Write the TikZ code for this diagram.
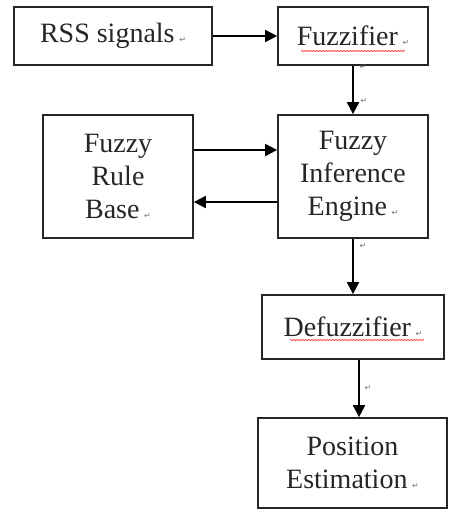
\documentclass[tikz,border=0pt]{standalone}
\usepackage{fontspec}
\setmainfont{Liberation Serif}
\newfontfamily\markfont{DejaVu Sans}
\usetikzlibrary{arrows.meta,decorations.pathmorphing}
\newcommand{\pmark}{\,{\markfont\fontsize{8}{8}\selectfont\color{black!55}\raisebox{0pt}{↵}}}
\tikzset{
  blk/.style={draw=black!85, line width=1.7pt, rectangle, inner sep=0pt,
    align=center, font=\fontsize{28}{33}\selectfont, text=black!85},
  flow/.style={draw=black, line width=1.8pt, -{Triangle[length=12pt,width=12pt]}},
  spell/.style={draw=red!70, line width=0.9pt, decorate,
    decoration={snake, amplitude=0.5pt, segment length=3pt}},
  pm/.style={inner sep=0pt, font=\markfont\fontsize{8}{8}\selectfont, text=black!55}
}
\begin{document}
\begin{tikzpicture}[x=1pt,y=-1pt]
\useasboundingbox (0,0) rectangle (449,511);
\node[blk, minimum width=198pt, minimum height=58pt] (rss) at (113,36) {RSS signals\pmark};
\node[blk, minimum width=150pt, minimum height=58pt] (fuz) at (353,36) {Fuzzifier\pmark};
\node[blk, minimum width=150pt, minimum height=123pt] (rule) at (118,176.5) {Fuzzy\\Rule\\Base\pmark};
\node[blk, minimum width=150pt, minimum height=123pt] (inf) at (353,176.5) {Fuzzy\\Inference\\Engine\pmark};
\node[blk, minimum width=182pt, minimum height=64pt] (defz) at (353,327) {Defuzzifier\pmark};
\node[blk, minimum width=189pt, minimum height=90pt] (pos) at (352.5,463) {Position\\Estimation\pmark};
% spell-check underlines
\coordinate (u1a) at (301,51); \coordinate (u1b) at (405,51);
\coordinate (u2a) at (290,340); \coordinate (u2b) at (424,340);
\path[spell] (u1a) -- (u1b);
\path[spell] (u2a) -- (u2b);
% connectors
\draw[flow] (rss.east) -- (fuz.west);
\draw[flow] (fuz.south) -- (inf.north);
\draw[flow] ([yshift=26.5pt]rule.east) -- ([yshift=26.5pt]inf.west);
\draw[flow] ([yshift=-25.5pt]inf.west) -- ([yshift=-25.5pt]rule.east);
\draw[flow] (inf.south) -- (inf.south |- defz.north);
\draw[flow] ([xshift=6pt]defz.south) -- ([xshift=6pt]defz.south |- pos.north);
% paragraph marks beside arrows
\node[pm] (m1) at (364,101) {↵};
\node[pm] (m2) at (363,246) {↵};
\node[pm] (m3) at (368,388) {↵};
\node[pm] (m4) at (363,67) {↵};
\end{tikzpicture}
\end{document}
